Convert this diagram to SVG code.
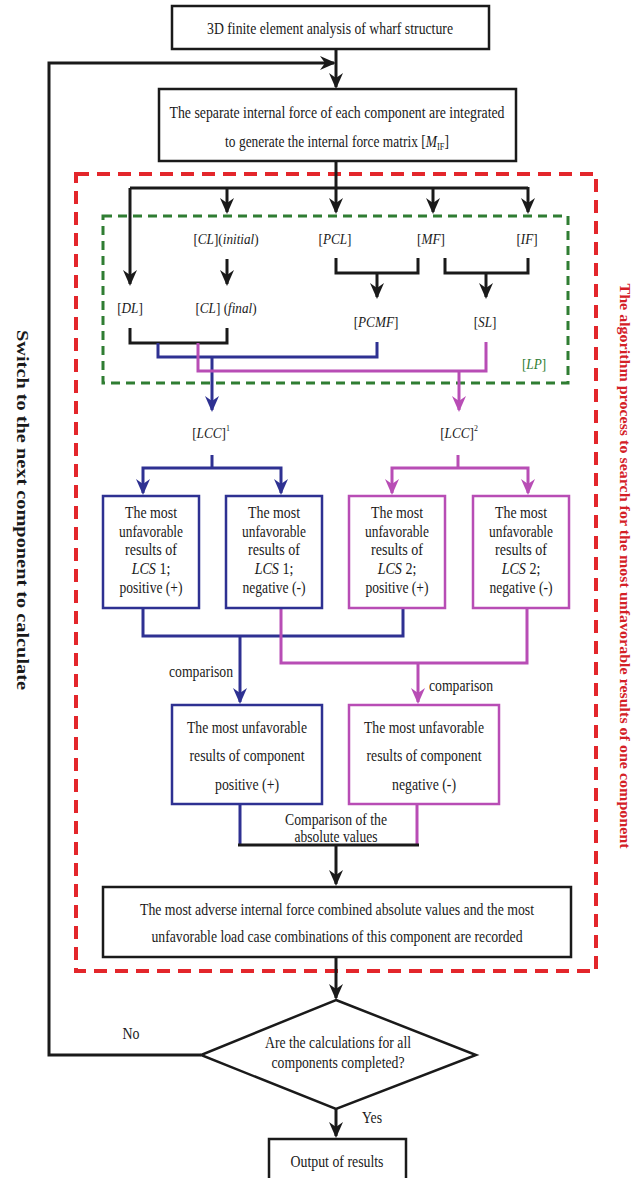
<svg xmlns="http://www.w3.org/2000/svg" width="640" height="1178" viewBox="0 0 640 1178">
<defs>
<style>
.t{font-family:"Liberation Serif","Times New Roman",serif;font-size:16px;fill:#1a1a1a;text-anchor:middle}
.s{font-size:15px}
.i{font-style:italic}
.bx{fill:#fff;stroke:#1a1a1a;stroke-width:2.5}
.bb{fill:#fff;stroke:#2e3192;stroke-width:2.5}
.bm{fill:#fff;stroke:#b84db5;stroke-width:2.5}
.k{fill:none;stroke:#1a1a1a;stroke-width:3}
.b{fill:none;stroke:#2e3192;stroke-width:3}
.m{fill:none;stroke:#b84db5;stroke-width:3}
.ka{marker-end:url(#ak)}
.ba{marker-end:url(#ab)}
.ma{marker-end:url(#am)}
.vt{font-family:"Liberation Serif","Times New Roman",serif;font-weight:bold;text-anchor:middle}
</style>
<marker id="ak" markerUnits="userSpaceOnUse" markerWidth="16" markerHeight="14" viewBox="0 0 16 14" refX="14" refY="7" orient="auto"><path d="M0,0 L16,7 L0,14 L5,7 z" fill="#1a1a1a"/></marker>
<marker id="ab" markerUnits="userSpaceOnUse" markerWidth="16" markerHeight="14" viewBox="0 0 16 14" refX="14" refY="7" orient="auto"><path d="M0,0 L16,7 L0,14 L5,7 z" fill="#2e3192"/></marker>
<marker id="am" markerUnits="userSpaceOnUse" markerWidth="16" markerHeight="14" viewBox="0 0 16 14" refX="14" refY="7" orient="auto"><path d="M0,0 L16,7 L0,14 L5,7 z" fill="#b84db5"/></marker>
</defs>
<rect width="640" height="1178" fill="#fff"/>

<g id="region-search">
<rect x="76" y="174" width="520" height="797" fill="none" stroke="#e3262b" stroke-width="4" stroke-dasharray="13 8"/>
<text class="vt" transform="translate(620,566) rotate(90)" font-size="15" fill="#d42027" textLength="565" lengthAdjust="spacingAndGlyphs">The algorithm process to search for the most unfavorable results of one component</text>
</g>
<g id="region-LP">
<rect x="103" y="216" width="465" height="167" fill="none" stroke="#2f7d32" stroke-width="3" stroke-dasharray="9 6"/>
<text class="t s" transform="translate(534,369) scale(0.88,1)" style="fill:#2f7d32">[<tspan class="i">LP</tspan>]</text>
</g>

<g id="connectors">
<line class="k ka" x1="336" y1="49" x2="336" y2="87"/>
<polyline class="k ka" points="201,1055 49,1055 49,63 334,63"/>
<line class="k ka" x1="336" y1="161" x2="336" y2="212"/>
<polyline class="k" points="130,188 528,188"/>
<line class="k ka" x1="130" y1="188" x2="130" y2="284"/>
<line class="k ka" x1="227" y1="188" x2="227" y2="212"/>
<line class="k ka" x1="433" y1="188" x2="433" y2="212"/>
<line class="k ka" x1="528" y1="187" x2="528" y2="212"/>
<line class="k ka" x1="227" y1="259" x2="227" y2="284"/>
<polyline class="k" points="130,328 130,343 227,343 227,328"/>
<polyline class="k" points="336,258 336,273 418,273 418,258"/>
<line class="k ka" x1="377" y1="273" x2="377" y2="297"/>
<polyline class="k" points="445,258 445,273 528,273 528,258"/>
<line class="k ka" x1="486" y1="273" x2="486" y2="297"/>

<polyline class="b" points="158,343 158,357 377,357 377,342"/>
<line class="b ba" x1="212" y1="357" x2="212" y2="410"/>
<polyline class="m" points="198,343 198,371 486,371 486,342"/>
<line class="m ma" x1="459" y1="371" x2="459" y2="410"/>

<line class="b" x1="212" y1="455" x2="212" y2="468"/>
<polyline class="b ba" points="212,468 143,468 143,493"/>
<polyline class="b ba" points="212,468 281,468 281,493"/>
<line class="m" x1="458" y1="455" x2="458" y2="468"/>
<polyline class="m ma" points="458,468 392,468 392,493"/>
<polyline class="m ma" points="458,468 528,468 528,493"/>

<polyline class="b" points="143,608 143,636 403,636 403,608"/>
<line class="b ba" x1="240" y1="636" x2="240" y2="702"/>
<polyline class="m" points="281,608 281,663 527,663 527,608"/>
<line class="m ma" x1="418" y1="663" x2="418" y2="702"/>

<line class="b" x1="240" y1="804" x2="240" y2="845"/>
<line class="m" x1="417" y1="804" x2="417" y2="845"/>
<line class="k" x1="238" y1="845" x2="419" y2="845" stroke-width="3.5"/>
<line class="k ka" x1="336" y1="845" x2="336" y2="884"/>
<line class="k ka" x1="336" y1="957" x2="336" y2="998"/>
<line class="k ka" x1="336" y1="1109" x2="336" y2="1136"/>
</g>

<g id="n-fea"><rect class="bx" x="172" y="6" width="317" height="43"/>
<text class="t" x="330" y="34" textLength="246" lengthAdjust="spacingAndGlyphs">3D finite element analysis of wharf structure</text></g>

<g id="n-matrix"><rect class="bx" x="159" y="89" width="357" height="72"/>
<text class="t" x="337" y="118" textLength="335" lengthAdjust="spacingAndGlyphs">The separate internal force of each component are integrated</text>
<text class="t" transform="translate(337,147) scale(0.84,1)">to generate the internal force matrix [<tspan class="i">M</tspan><tspan font-size="10" dy="3">IF</tspan><tspan dy="-3">]</tspan></text></g>

<g id="n-CLi"><text class="t s" transform="translate(226,244) scale(0.88,1)">[<tspan class="i">CL</tspan>](<tspan class="i">initial</tspan>)</text></g>
<g id="n-PCL"><text class="t s" transform="translate(335,244) scale(0.88,1)">[<tspan class="i">PCL</tspan>]</text></g>
<g id="n-MF"><text class="t s" transform="translate(431,244) scale(0.88,1)">[<tspan class="i">MF</tspan>]</text></g>
<g id="n-IF"><text class="t s" transform="translate(527,244) scale(0.88,1)">[<tspan class="i">IF</tspan>]</text></g>
<g id="n-DL"><text class="t s" transform="translate(130,313) scale(0.88,1)">[<tspan class="i">DL</tspan>]</text></g>
<g id="n-CLf"><text class="t s" transform="translate(226,313) scale(0.88,1)">[<tspan class="i">CL</tspan>] (<tspan class="i">final</tspan>)</text></g>
<g id="n-PCMF"><text class="t s" transform="translate(376,327) scale(0.88,1)">[<tspan class="i">PCMF</tspan>]</text></g>
<g id="n-SL"><text class="t s" transform="translate(485,327) scale(0.88,1)">[<tspan class="i">SL</tspan>]</text></g>

<g id="n-LCC1"><text class="t s" transform="translate(211,438) scale(0.88,1)">[<tspan class="i">LCC</tspan>]<tspan font-size="9" dy="-7">1</tspan></text></g>
<g id="n-LCC2"><text class="t s" transform="translate(459,438) scale(0.88,1)">[<tspan class="i">LCC</tspan>]<tspan font-size="9" dy="-7">2</tspan></text></g>

<g id="n-lcs1pos"><rect class="bb" x="103" y="496" width="96" height="112"/>
<text class="t" x="151" y="518" textLength="52" lengthAdjust="spacingAndGlyphs">The most</text>
<text class="t" x="151" y="537" textLength="64" lengthAdjust="spacingAndGlyphs">unfavorable</text>
<text class="t" x="151" y="555" textLength="52" lengthAdjust="spacingAndGlyphs">results of</text>
<text class="t" transform="translate(151,574) scale(0.88,1)"><tspan class="i">LCS</tspan> 1;</text>
<text class="t" x="151" y="593" textLength="63" lengthAdjust="spacingAndGlyphs">positive (+)</text></g>

<g id="n-lcs1neg"><rect class="bb" x="226" y="496" width="96" height="112"/>
<text class="t" x="274" y="518" textLength="52" lengthAdjust="spacingAndGlyphs">The most</text>
<text class="t" x="274" y="537" textLength="64" lengthAdjust="spacingAndGlyphs">unfavorable</text>
<text class="t" x="274" y="555" textLength="52" lengthAdjust="spacingAndGlyphs">results of</text>
<text class="t" transform="translate(274,574) scale(0.88,1)"><tspan class="i">LCS</tspan> 1;</text>
<text class="t" x="274" y="593" textLength="63" lengthAdjust="spacingAndGlyphs">negative (-)</text></g>

<g id="n-lcs2pos"><rect class="bm" x="349" y="496" width="96" height="112"/>
<text class="t" x="397" y="518" textLength="52" lengthAdjust="spacingAndGlyphs">The most</text>
<text class="t" x="397" y="537" textLength="64" lengthAdjust="spacingAndGlyphs">unfavorable</text>
<text class="t" x="397" y="555" textLength="52" lengthAdjust="spacingAndGlyphs">results of</text>
<text class="t" transform="translate(397,574) scale(0.88,1)"><tspan class="i">LCS</tspan> 2;</text>
<text class="t" x="397" y="593" textLength="63" lengthAdjust="spacingAndGlyphs">positive (+)</text></g>

<g id="n-lcs2neg"><rect class="bm" x="473" y="496" width="96" height="112"/>
<text class="t" x="521" y="518" textLength="52" lengthAdjust="spacingAndGlyphs">The most</text>
<text class="t" x="521" y="537" textLength="64" lengthAdjust="spacingAndGlyphs">unfavorable</text>
<text class="t" x="521" y="555" textLength="52" lengthAdjust="spacingAndGlyphs">results of</text>
<text class="t" transform="translate(521,574) scale(0.88,1)"><tspan class="i">LCS</tspan> 2;</text>
<text class="t" x="521" y="593" textLength="63" lengthAdjust="spacingAndGlyphs">negative (-)</text></g>

<g id="lbl-comparison1"><text class="t" x="201" y="677" textLength="64" lengthAdjust="spacingAndGlyphs">comparison</text></g>
<g id="lbl-comparison2"><text class="t" x="461" y="691" textLength="64" lengthAdjust="spacingAndGlyphs">comparison</text></g>

<g id="n-comppos"><rect class="bb" x="172" y="705" width="150" height="99"/>
<text class="t" x="247" y="733" textLength="120" lengthAdjust="spacingAndGlyphs">The most unfavorable</text>
<text class="t" x="247" y="761" textLength="115" lengthAdjust="spacingAndGlyphs">results of component</text>
<text class="t" x="247" y="790" textLength="64" lengthAdjust="spacingAndGlyphs">positive (+)</text></g>

<g id="n-compneg"><rect class="bm" x="349" y="705" width="150" height="99"/>
<text class="t" x="424" y="733" textLength="120" lengthAdjust="spacingAndGlyphs">The most unfavorable</text>
<text class="t" x="424" y="761" textLength="115" lengthAdjust="spacingAndGlyphs">results of component</text>
<text class="t" x="424" y="790" textLength="64" lengthAdjust="spacingAndGlyphs">negative (-)</text></g>

<g id="lbl-abs"><text class="t" x="336" y="825" textLength="102" lengthAdjust="spacingAndGlyphs">Comparison of the</text>
<text class="t" x="336" y="842" textLength="83" lengthAdjust="spacingAndGlyphs">absolute values</text></g>

<g id="n-record"><rect class="bx" x="103" y="887" width="468" height="70"/>
<text class="t" x="337" y="915" textLength="394" lengthAdjust="spacingAndGlyphs">The most adverse internal force combined absolute values and the most</text>
<text class="t" x="337" y="942" textLength="371" lengthAdjust="spacingAndGlyphs">unfavorable load case combinations of this component are recorded</text></g>

<g id="n-decision"><polygon class="bx" points="336,1000 476,1055 336,1109 201,1055"/>
<text class="t" x="338" y="1048" textLength="146" lengthAdjust="spacingAndGlyphs">Are the calculations for all</text>
<text class="t" x="338" y="1068" textLength="133" lengthAdjust="spacingAndGlyphs">components completed?</text></g>

<g id="lbl-no"><text class="t" x="131" y="1039" textLength="17" lengthAdjust="spacingAndGlyphs">No</text></g>
<g id="lbl-yes"><text class="t" x="372" y="1123" textLength="20" lengthAdjust="spacingAndGlyphs">Yes</text></g>

<g id="n-output"><rect class="bx" x="269" y="1139" width="137" height="50"/>
<text class="t" x="337" y="1167" textLength="93" lengthAdjust="spacingAndGlyphs">Output of results</text></g>

<g id="lbl-switch"><text class="vt" transform="translate(17,510) rotate(90)" font-size="16" fill="#1a1a1a" textLength="360" lengthAdjust="spacingAndGlyphs">Switch to the next component to calculate</text></g>
</svg>
